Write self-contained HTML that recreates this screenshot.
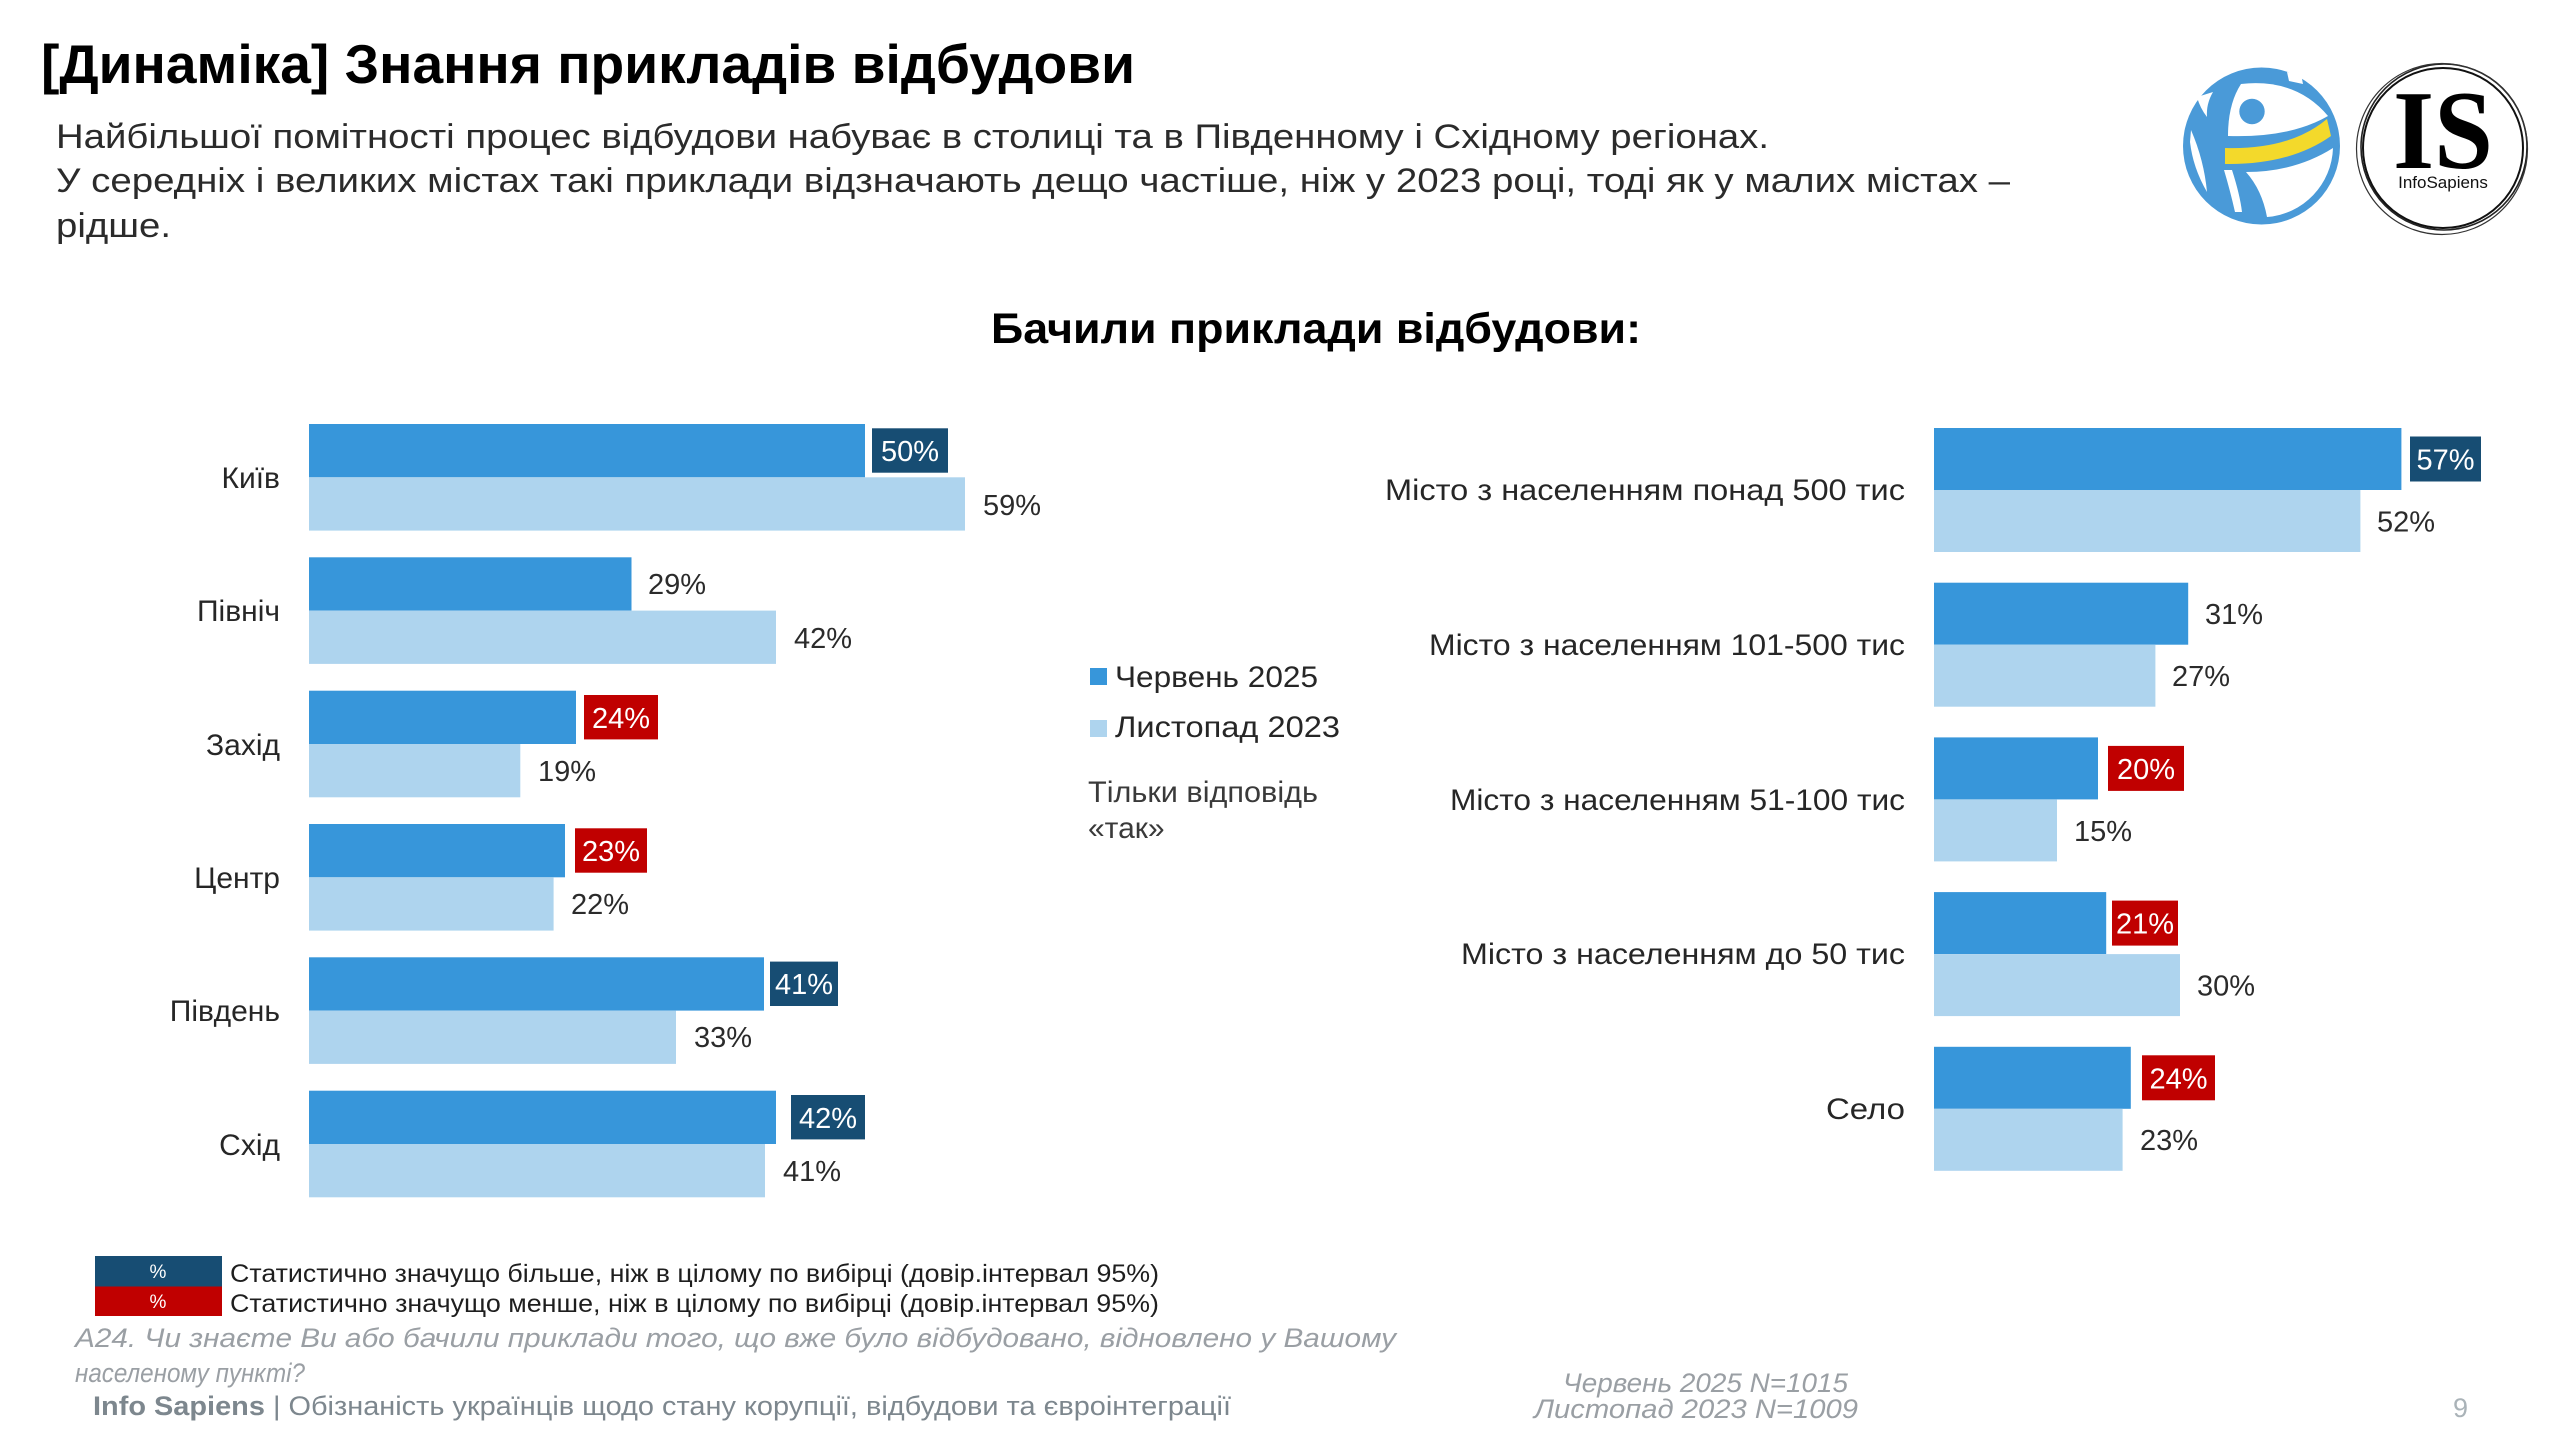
<!DOCTYPE html>
<html lang="uk">
<head>
<meta charset="utf-8">
<title>Динаміка — Знання прикладів відбудови</title>
<style>
  html,body{margin:0;padding:0;background:#fff;}
  body{width:2560px;height:1440px;overflow:hidden;}
  svg{display:block;}
  text{font-family:"Liberation Sans","Noto Sans CJK SC",sans-serif;}
</style>
</head>
<body>
<svg width="2560" height="1440" viewBox="0 0 2560 1440" xmlns="http://www.w3.org/2000/svg">
  <rect x="0" y="0" width="2560" height="1440" fill="#ffffff"/>

  <!-- Title -->
  <text x="41" y="83" font-size="55" font-weight="bold" fill="#000" textLength="1094" lengthAdjust="spacingAndGlyphs">[Динаміка] Знання прикладів відбудови</text>

  <!-- Subtitle -->
  <g font-size="34" fill="#2b2b2b">
    <text x="56" y="148" textLength="1713" lengthAdjust="spacingAndGlyphs">Найбільшої помітності процес відбудови набуває в столиці та в Південному і Східному регіонах.</text>
    <text x="56" y="192" textLength="1954" lengthAdjust="spacingAndGlyphs">У середніх і великих містах такі приклади відзначають дещо частіше, ніж у 2023 році, тоді як у малих містах –</text>
    <text x="56" y="237" textLength="115" lengthAdjust="spacingAndGlyphs">рідше.</text>
  </g>

  <!-- Logos -->
  <g>
    <circle cx="2261.5" cy="146" r="78.5" fill="#4a9ad8"/>
    <!-- upper-right white -->
    <path d="M2241,84 Q2296,78 2328,116 Q2290,138 2228,136 Q2228,104 2241,84 Z" fill="#fff"/>
    <circle cx="2252" cy="111.5" r="12.7" fill="#4a9ad8"/>
    <!-- yellow band -->
    <path d="M2225,148 Q2290,150 2327,119 L2331,136 Q2290,165 2225,164 Z" fill="#f3d92b"/>
    <!-- lower-right white -->
    <path d="M2246,172 Q2295,172 2333,148 A71.5 71.5 0 0 1 2267,217 Q2262,190 2246,172 Z" fill="#fff"/>
    <!-- left slivers -->
    <path d="M2191,130 Q2204,160 2207,192 Q2193,168 2190,142 Z" fill="#fff"/>
    <path d="M2197,97 L2213,92 Q2206,104 2207,117 Q2200,108 2197,97 Z" fill="#fff"/>
    <path d="M2224,170 L2232,170 Q2240,195 2242,212 L2235,212 Q2230,190 2224,170 Z" fill="#fff"/>
    <path d="M2287,72 L2301,74 L2303,84 L2289,81 Z" fill="#fff"/>

    <!-- InfoSapiens -->
    <circle cx="2443" cy="148" r="80" fill="none" stroke="#111" stroke-width="2"/>
    <circle cx="2444" cy="147" r="83" fill="none" stroke="#222" stroke-width="1.6"/>
    <circle cx="2442" cy="149" r="85.5" fill="none" stroke="#333" stroke-width="1.2"/>
    <text x="2443" y="168" font-family="'Liberation Serif',serif" font-weight="bold" font-size="112" text-anchor="middle" fill="#000" textLength="100" lengthAdjust="spacingAndGlyphs" style="font-family:'Liberation Serif',serif">IS</text>
    <text x="2443" y="188" font-size="17" text-anchor="middle" fill="#111">InfoSapiens</text>
  </g>

  <!-- Chart title -->
  <text x="991" y="343" font-size="43" font-weight="bold" fill="#000" textLength="650" lengthAdjust="spacingAndGlyphs">Бачили приклади відбудови:</text>

  <!-- LEFT CHART -->
  <g>
    <!-- Київ -->
    <rect x="309" y="424" width="556" height="53.3" fill="#3796da"/>
    <rect x="309" y="477.3" width="656" height="53.3" fill="#aed4ee"/>
    <!-- Північ -->
    <rect x="309" y="557.3" width="322.5" height="53.3" fill="#3796da"/>
    <rect x="309" y="610.6" width="467" height="53.3" fill="#aed4ee"/>
    <!-- Захід -->
    <rect x="309" y="690.7" width="267" height="53.3" fill="#3796da"/>
    <rect x="309" y="744" width="211.3" height="53.3" fill="#aed4ee"/>
    <!-- Центр -->
    <rect x="309" y="824" width="256" height="53.3" fill="#3796da"/>
    <rect x="309" y="877.3" width="244.6" height="53.3" fill="#aed4ee"/>
    <!-- Південь -->
    <rect x="309" y="957.3" width="455" height="53.3" fill="#3796da"/>
    <rect x="309" y="1010.6" width="367" height="53.3" fill="#aed4ee"/>
    <!-- Схід -->
    <rect x="309" y="1090.7" width="467" height="53.3" fill="#3796da"/>
    <rect x="309" y="1144" width="456" height="53.3" fill="#aed4ee"/>

    <!-- category labels -->
    <g font-size="30" fill="#262626" text-anchor="end">
      <text x="280" y="488">Київ</text>
      <text x="280" y="621">Північ</text>
      <text x="280" y="755">Захід</text>
      <text x="280" y="888">Центр</text>
      <text x="280" y="1021">Південь</text>
      <text x="280" y="1155">Схід</text>
    </g>

    <!-- highlighted boxes -->
    <rect x="872" y="428.3" width="76" height="44.4" fill="#174d73"/>
    <rect x="584" y="695" width="74" height="44.4" fill="#c00000"/>
    <rect x="575" y="828.3" width="72" height="44.4" fill="#c00000"/>
    <rect x="770" y="961.6" width="68" height="44.4" fill="#174d73"/>
    <rect x="791" y="1095" width="74" height="44.4" fill="#174d73"/>
    <g font-size="29" fill="#ffffff" text-anchor="middle">
      <text x="910" y="461">50%</text>
      <text x="621" y="728">24%</text>
      <text x="611" y="861">23%</text>
      <text x="804" y="994">41%</text>
      <text x="828" y="1128">42%</text>
    </g>

    <!-- plain value labels -->
    <g font-size="29" fill="#2b2b2b">
      <text x="983" y="515">59%</text>
      <text x="648" y="594">29%</text>
      <text x="794" y="648">42%</text>
      <text x="538" y="781">19%</text>
      <text x="571" y="914">22%</text>
      <text x="694" y="1047">33%</text>
      <text x="783" y="1181">41%</text>
    </g>
  </g>

  <!-- MIDDLE LEGEND -->
  <rect x="1090" y="668" width="17" height="17" fill="#3796da"/>
  <rect x="1090" y="720" width="17" height="17" fill="#aed4ee"/>
  <g font-size="30" fill="#262626">
    <text x="1115" y="687" textLength="203" lengthAdjust="spacingAndGlyphs">Червень 2025</text>
    <text x="1115" y="737" textLength="225" lengthAdjust="spacingAndGlyphs">Листопад 2023</text>
  </g>
  <g font-size="30" fill="#3a3a3a">
    <text x="1088" y="802" textLength="230" lengthAdjust="spacingAndGlyphs">Тільки відповідь</text>
    <text x="1088" y="838">«так»</text>
  </g>

  <!-- RIGHT CHART -->
  <g>
    <rect x="1934" y="428" width="467.4" height="62" fill="#3796da"/>
    <rect x="1934" y="490" width="426.4" height="62" fill="#aed4ee"/>

    <rect x="1934" y="582.7" width="254.2" height="62" fill="#3796da"/>
    <rect x="1934" y="644.7" width="221.4" height="62" fill="#aed4ee"/>

    <rect x="1934" y="737.4" width="164" height="62" fill="#3796da"/>
    <rect x="1934" y="799.4" width="123" height="62" fill="#aed4ee"/>

    <rect x="1934" y="892.1" width="172.2" height="62" fill="#3796da"/>
    <rect x="1934" y="954.1" width="246" height="62" fill="#aed4ee"/>

    <rect x="1934" y="1046.8" width="196.8" height="62" fill="#3796da"/>
    <rect x="1934" y="1108.8" width="188.6" height="62" fill="#aed4ee"/>

    <!-- labels -->
    <g font-size="30" fill="#262626" text-anchor="end">
      <text x="1905" y="500" textLength="520" lengthAdjust="spacingAndGlyphs">Місто з населенням понад 500 тис</text>
      <text x="1905" y="655" textLength="476" lengthAdjust="spacingAndGlyphs">Місто з населенням 101-500 тис</text>
      <text x="1905" y="810" textLength="455" lengthAdjust="spacingAndGlyphs">Місто з населенням 51-100 тис</text>
      <text x="1905" y="964" textLength="444" lengthAdjust="spacingAndGlyphs">Місто з населенням до 50 тис</text>
      <text x="1905" y="1119" textLength="79" lengthAdjust="spacingAndGlyphs">Село</text>
    </g>

    <!-- boxes -->
    <rect x="2410" y="436.5" width="71" height="45" fill="#174d73"/>
    <rect x="2108" y="745.9" width="76" height="45" fill="#c00000"/>
    <rect x="2112" y="900.6" width="66" height="45" fill="#c00000"/>
    <rect x="2142" y="1055.3" width="73" height="45" fill="#c00000"/>
    <g font-size="29" fill="#ffffff" text-anchor="middle">
      <text x="2445.5" y="469.5">57%</text>
      <text x="2146" y="779">20%</text>
      <text x="2145" y="933.5">21%</text>
      <text x="2178.5" y="1088.3">24%</text>
    </g>

    <!-- plain values -->
    <g font-size="29" fill="#2b2b2b">
      <text x="2377" y="531.5">52%</text>
      <text x="2205" y="624">31%</text>
      <text x="2172" y="686">27%</text>
      <text x="2074" y="841">15%</text>
      <text x="2197" y="995.5">30%</text>
      <text x="2140" y="1150">23%</text>
    </g>
  </g>

  <!-- BOTTOM LEGEND -->
  <rect x="95" y="1256" width="127" height="30.5" fill="#174d73"/>
  <rect x="95" y="1286.5" width="127" height="29.5" fill="#c00000"/>
  <g font-size="19" fill="#ffffff" text-anchor="middle">
    <text x="158" y="1278">%</text>
    <text x="158" y="1308">%</text>
  </g>
  <g font-size="25" fill="#1e1e1e">
    <text x="230" y="1282" textLength="929" lengthAdjust="spacingAndGlyphs">Статистично значущо більше, ніж в цілому по вибірці (довір.інтервал 95%)</text>
    <text x="230" y="1312" textLength="929" lengthAdjust="spacingAndGlyphs">Статистично значущо менше, ніж в цілому по вибірці (довір.інтервал 95%)</text>
  </g>

  <!-- Question -->
  <g font-size="27" font-style="italic" fill="#9a9fa4">
    <text x="75" y="1347" textLength="1321" lengthAdjust="spacingAndGlyphs">А24. Чи знаєте Ви або бачили приклади того, що вже було відбудовано, відновлено у Вашому</text>
    <text x="75" y="1382" textLength="230" lengthAdjust="spacingAndGlyphs">населеному пункті?</text>
  </g>

  <!-- Footer -->
  <text x="93" y="1415" font-size="27" fill="#7d878e" textLength="1138" lengthAdjust="spacingAndGlyphs"><tspan font-weight="bold">Info Sapiens</tspan> | Обізнаність українців щодо стану корупції, відбудови та євроінтеграції</text>

  <g font-size="27" font-style="italic" fill="#9a9fa4">
    <text x="1563" y="1392" textLength="285" lengthAdjust="spacingAndGlyphs">Червень 2025 N=1015</text>
    <text x="1534" y="1418" textLength="324" lengthAdjust="spacingAndGlyphs">Листопад 2023  N=1009</text>
  </g>
  <text x="2453" y="1417" font-size="27" fill="#aab3b8">9</text>
</svg>
</body>
</html>
